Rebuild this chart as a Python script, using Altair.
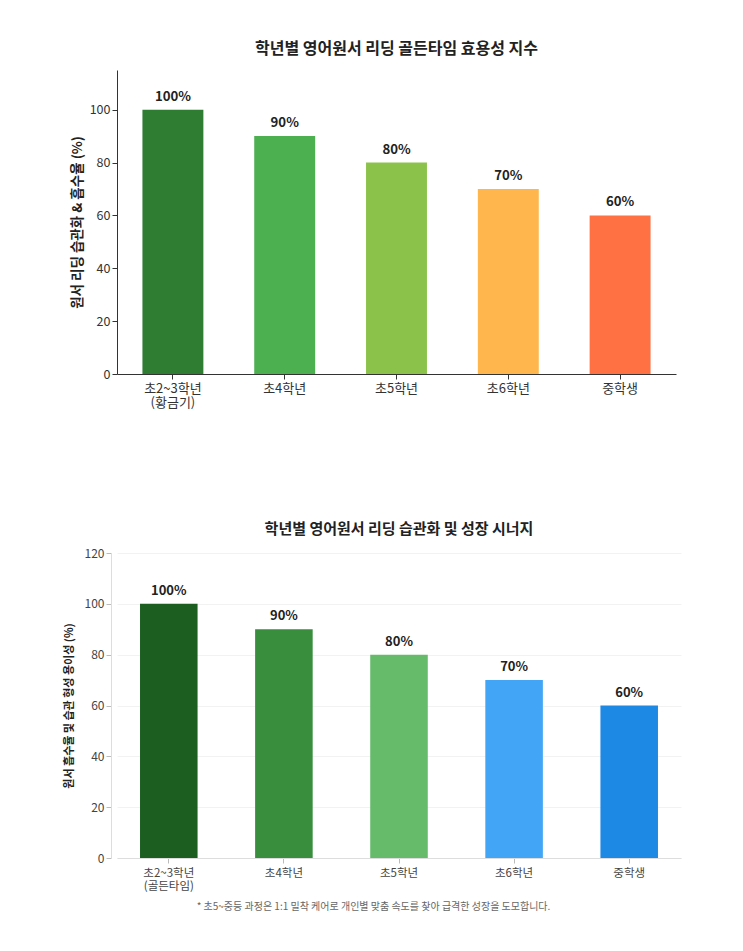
import altair as alt
import pandas as pd

FONT = "Noto Sans CJK KR"

grades_top = ["초2~3학년\n(황금기)", "초4학년", "초5학년", "초6학년", "중학생"]
values_top = [100, 90, 80, 70, 60]
colors_top = ["#2E7D32", "#4CAF50", "#8BC34A", "#FFB74D", "#FF7043"]

grades_bot = ["초2~3학년\n(골든타임)", "초4학년", "초5학년", "초6학년", "중학생"]
values_bot = [100, 90, 80, 70, 60]
colors_bot = ["#1B5E20", "#388E3C", "#66BB6A", "#42A5F5", "#1E88E5"]

title_top = "학년별 영어원서 리딩 골든타임 효용성 지수"
title_bot = "학년별 영어원서 리딩 습관화 및 성장 시너지"
ytitle_top = "원서 리딩 습관화 & 흡수율 (%)"
ytitle_bot = "원서 흡수율 및 습관 형성 용이성 (%)"
footnote = "* 초5~중등 과정은 1:1 밀착 케어로 개인별 맞춤 속도를 찾아 급격한 성장을 도모합니다."

df_top = pd.DataFrame({"grade": grades_top, "value": values_top,
                       "label": [f"{v}%" for v in values_top]})
df_bot = pd.DataFrame({"grade": grades_bot, "value": values_bot,
                       "label": [f"{v}%" for v in values_bot]})

label_expr = "split(datum.label, '\\n')"

# ---------- top chart ----------
x_top = alt.X("grade:N", sort=grades_top, title=None,
              scale=alt.Scale(paddingInner=0.455, paddingOuter=0.2275),
              axis=alt.Axis(labelAngle=0, labelExpr=label_expr, labelFont=FONT,
                            labelFontSize=13, labelColor="#333", domainColor="#333",
                            tickColor="#333", tickSize=5, labelPadding=3,
                            labelLineHeight=14.5))
y_top = alt.Y("value:Q", title=ytitle_top,
              scale=alt.Scale(domain=[0, 115], nice=False),
              axis=alt.Axis(values=[0, 20, 40, 60, 80, 100], grid=False,
                            labelFont=FONT, labelFontSize=12.5, labelColor="#333",
                            domainColor="#333", tickColor="#333", tickSize=5,
                            titleFont=FONT, titleFontSize=13.5, titleFontWeight="bold",
                            titleColor="#222", titlePadding=5))

bars_top = alt.Chart(df_top).mark_bar().encode(
    x=x_top, y=y_top,
    color=alt.Color("grade:N", sort=grades_top,
                    scale=alt.Scale(domain=grades_top, range=colors_top), legend=None),
)
text_top = alt.Chart(df_top).mark_text(
    font=FONT, fontSize=13.2, fontWeight="bold", color="#222",
    baseline="bottom", dy=-6,
).encode(x=alt.X("grade:N", sort=grades_top), y="value:Q", text="label:N")

top = alt.layer(bars_top, text_top).properties(
    width=559, height=304,
    title=alt.TitleParams(title_top, font=FONT, fontSize=16, fontWeight="bold",
                          color="#222", offset=13, anchor="middle"),
)

# ---------- bottom chart ----------
x_bot = alt.X("grade:N", sort=grades_bot,
              scale=alt.Scale(paddingInner=0.5, paddingOuter=0.2),
              axis=alt.Axis(title=footnote, labelAngle=0, labelExpr=label_expr,
                            labelFont=FONT, labelFontSize=11.5, labelColor="#444",
                            domainColor="#ddd", tickColor="#bbb", tickSize=5,
                            labelPadding=4, labelLineHeight=13.5,
                            titleFont=FONT, titleFontSize=10, titleFontWeight="normal",
                            titleColor="#666", titleX=256, titleY=48,
                            titleAlign="center", titleBaseline="middle"))
y_bot = alt.Y("value:Q", title=ytitle_bot,
              scale=alt.Scale(domain=[0, 120], nice=False),
              axis=alt.Axis(values=[0, 20, 40, 60, 80, 100, 120], grid=True, offset=6,
                            gridColor="#f2f2f2", labelFont=FONT, labelFontSize=12,
                            labelColor="#444", domainColor="#ddd", tickColor="#bbb",
                            tickSize=5, titleFont=FONT, titleFontSize=11,
                            titleFontWeight="bold", titleColor="#222", titlePadding=10))

bars_bot = alt.Chart(df_bot).mark_bar().encode(
    x=x_bot, y=y_bot,
    color=alt.Color("grade:N", sort=grades_bot,
                    scale=alt.Scale(domain=grades_bot, range=colors_bot), legend=None),
)
text_bot = alt.Chart(df_bot).mark_text(
    font=FONT, fontSize=13, fontWeight="bold", color="#222",
    baseline="bottom", dy=-6,
).encode(x=alt.X("grade:N", sort=grades_bot), y="value:Q", text="label:N")

bottom = alt.layer(bars_bot, text_bot).properties(
    width=564, height=305,
    title=alt.TitleParams(title_bot, font=FONT, fontSize=15, fontWeight="bold",
                          color="#222", offset=10, anchor="middle"),
)

chart = alt.vconcat(top, bottom, spacing=112).properties(
    padding={"left": 55, "top": 33, "right": 10, "bottom": 10},
    background="white",
).configure_view(stroke=None).resolve_scale(color="independent")

chart.save("out.html", embed_options={"renderer": "svg", "actions": False})
